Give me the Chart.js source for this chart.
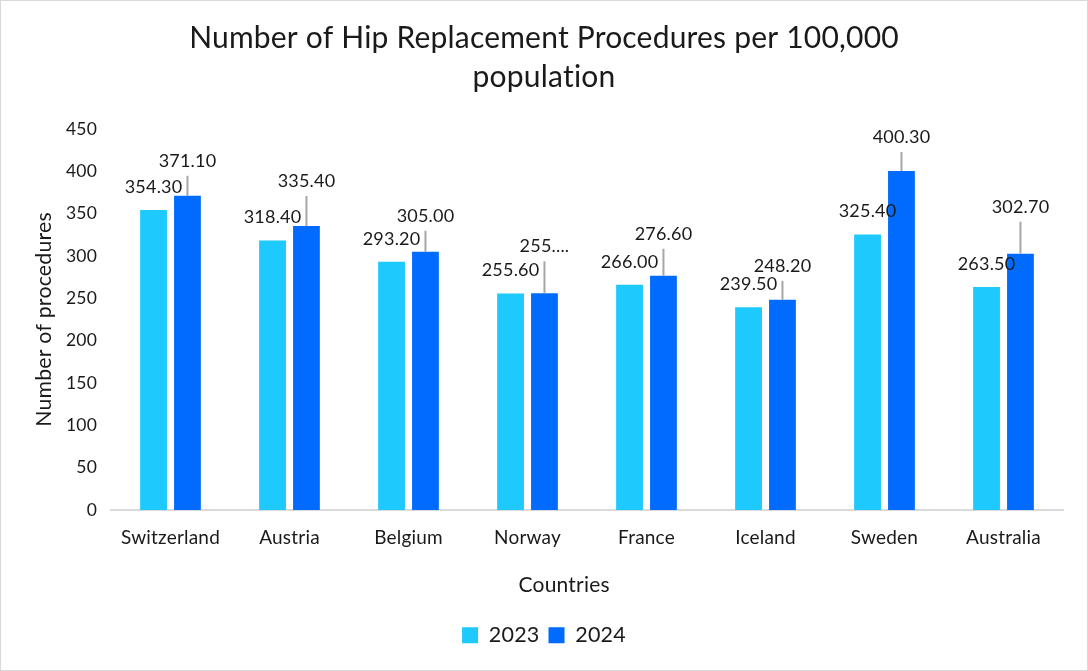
<!DOCTYPE html>
<html lang="en">
<head>
    <meta charset="UTF-8">
    <title>Hip Replacement Procedures</title>
    <script src="https://cdn.jsdelivr.net/npm/chart.js"></script>
    <style>
        html, body { margin: 0; padding: 0; background: #fff; }
        #wrap { width: 1088px; height: 671px; }
    </style>
</head>
<body>
    <div id="wrap"><canvas id="myChart" width="1088" height="671"></canvas></div>

    <script>
        // chart data
        const countries = ['Switzerland', 'Austria', 'Belgium', 'Norway', 'France', 'Iceland', 'Sweden', 'Australia'];
        const values2023 = [354.30, 318.40, 293.20, 255.60, 266.00, 239.50, 325.40, 263.50];
        const values2024 = [371.10, 335.40, 305.00, 255.90, 276.60, 248.20, 400.30, 302.70];
        const yTicks = [0, 50, 100, 150, 200, 250, 300, 350, 400, 450];

        const FONT = 'Lato, "Open Sans", sans-serif';
        const TEXT = '#1a1a1a';
        const PAD_BOTTOM = 15;

        // no "ti" ligatures, slightly looser text
        function textSetup(ctx) {
            ctx.letterSpacing = '0.2px';
            ctx.textRendering = 'optimizeSpeed';
        }

        // value labels: 2023 sit just above the bar, 2024 ones are lifted with a leader line
        const barLabels = {
            id: 'barLabels',
            afterDatasetsDraw(chart, args, opts) {
                const ctx = chart.ctx;
                ctx.save();
                ctx.font = '18px ' + FONT;
                ctx.fillStyle = TEXT;
                ctx.textAlign = 'center';
                ctx.textBaseline = 'middle';
                chart.data.datasets.forEach((ds, di) => {
                    const meta = chart.getDatasetMeta(di);
                    meta.data.forEach((bar, i) => {
                        let txt = ds.data[i].toFixed(2);
                        if (di === 1 && opts.truncate.includes(i)) txt = txt.slice(0, 4) + '...';
                        if (di === 0) {
                            ctx.fillText(txt, bar.x, bar.y - 23);
                        } else {
                            const lift = opts.lift[i];
                            ctx.strokeStyle = '#a6a6a6';
                            ctx.lineWidth = 2;
                            ctx.beginPath();
                            ctx.moveTo(bar.x, bar.y);
                            ctx.lineTo(bar.x, bar.y - lift);
                            ctx.stroke();
                            ctx.fillText(txt, bar.x, bar.y - lift - 15);
                        }
                    });
                });
                ctx.restore();
            }
        };

        // outer frame and the off-centre x axis title
        const frame = {
            id: 'frame',
            beforeLayout(chart) {
                textSetup(chart.ctx);
            },
            beforeDraw(chart) {
                const ctx = chart.ctx;
                textSetup(ctx);
                ctx.save();
                ctx.fillStyle = '#fff';
                ctx.fillRect(0, 0, chart.width, chart.height);
                ctx.strokeStyle = '#d9d9d9';
                ctx.lineWidth = 1;
                ctx.strokeRect(0.5, 0.5, chart.width - 1, chart.height - 1);
                ctx.restore();
            },
            afterDraw(chart) {
                const ctx = chart.ctx;
                const area = chart.chartArea;
                ctx.save();
                ctx.font = '21px ' + FONT;
                ctx.fillStyle = TEXT;
                ctx.textAlign = 'center';
                ctx.textBaseline = 'middle';
                ctx.fillText('Countries', area.left + (area.right - area.left) * 0.476, area.bottom + 75);
                ctx.restore();
            }
        };

        const ctx = document.getElementById('myChart').getContext('2d');
        const myChart = new Chart(ctx, {
            type: 'bar',
            data: {
                labels: countries,
                datasets: [{
                    label: '2023',
                    data: values2023,
                    backgroundColor: '#1dc9fd'
                }, {
                    label: '2024',
                    data: values2024,
                    backgroundColor: '#006bfe'
                }]
            },
            options: {
                responsive: false,
                animation: false,
                devicePixelRatio: 1,
                categoryPercentage: 0.57,
                barPercentage: 0.79,
                layout: { padding: { left: 25, right: 25, top: 0, bottom: PAD_BOTTOM } },
                plugins: {
                    title: {
                        display: true,
                        text: ['Number of Hip Replacement Procedures per 100,000', 'population'],
                        color: TEXT,
                        font: { family: FONT, size: 30, weight: 'normal', lineHeight: 1.3 },
                        padding: { top: 19, bottom: 32 }
                    },
                    legend: {
                        position: 'bottom',
                        labels: {
                            color: TEXT,
                            font: { family: FONT, size: 21.5 },
                            boxWidth: 16,
                            boxHeight: 16,
                            padding: 9
                        }
                    },
                    tooltip: { enabled: false },
                    barLabels: {
                        lift: [20, 30, 21, 32, 27, 19, 19, 32],
                        truncate: [3]
                    }
                },
                scales: {
                    x: {
                        grid: { display: false, drawTicks: false },
                        border: { display: true, color: '#d9d9d9', width: 2 },
                        ticks: { color: TEXT, font: { family: FONT, size: 19 }, padding: 16 },
                        afterFit(scale) {
                            const ch = scale.chart;
                            scale.height = ch.height - PAD_BOTTOM - ch.legend.height - 510;
                        }
                    },
                    y: {
                        min: 0,
                        max: 450,
                        afterBuildTicks(scale) {
                            scale.ticks = yTicks.map(v => ({ value: v }));
                        },
                        grid: { display: false, drawTicks: false },
                        border: { display: false },
                        ticks: { color: TEXT, font: { family: FONT, size: 17.5 }, padding: 14 },
                        title: {
                            display: true,
                            text: 'Number of procedures',
                            color: TEXT,
                            font: { family: FONT, size: 21.3 },
                            padding: { top: 6, bottom: 0 }
                        },
                        afterFit(scale) {
                            scale.width = 86;
                        }
                    }
                }
            },
            plugins: [barLabels, frame]
        });
    </script>
</body>
</html>
